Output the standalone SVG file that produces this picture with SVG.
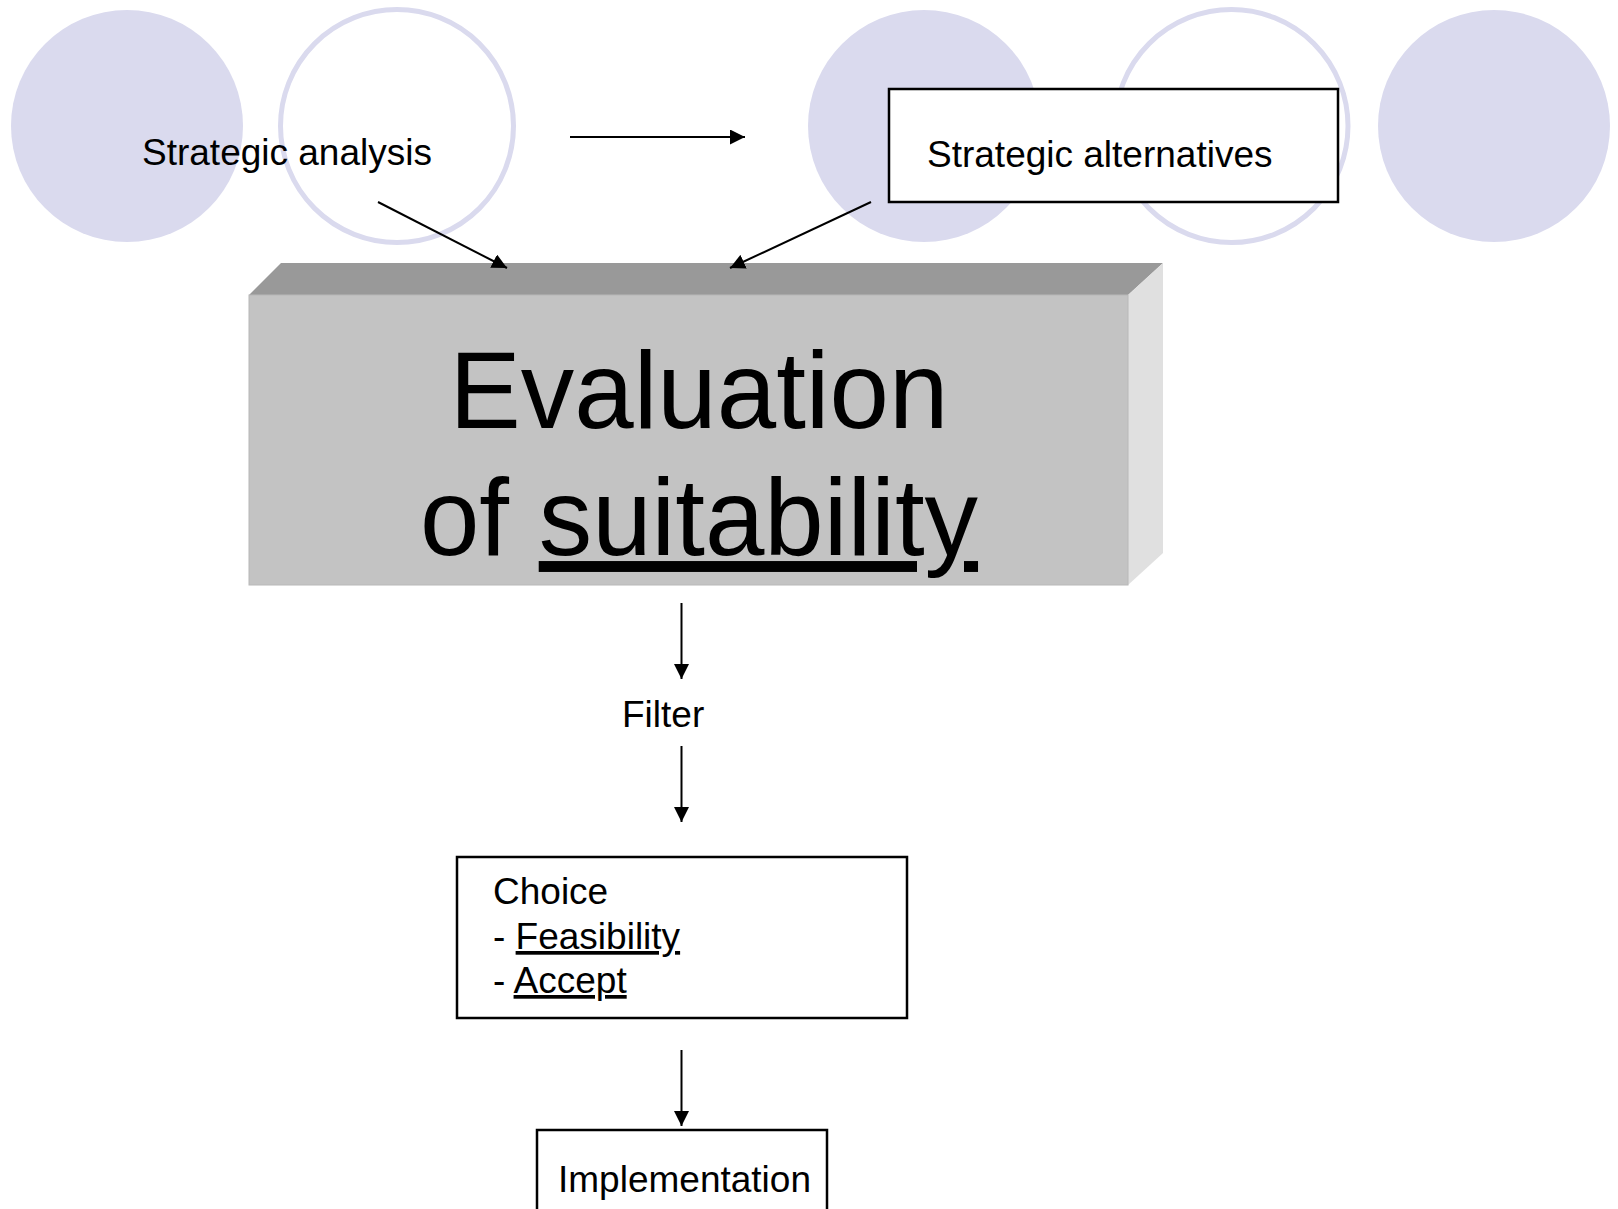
<svg xmlns="http://www.w3.org/2000/svg" width="1618" height="1209" viewBox="0 0 1618 1209">
  <style>
    .disc { fill: #DADAEE; }
    .ring { fill: none; stroke: #DADAEE; stroke-width: 5; }
    .t { font-family: "Liberation Sans", Arial, sans-serif; fill: #000; }
    .s37 { font-size: 37px; }
    .big { font-size: 109px; }
    .box { fill: #FFFFFF; stroke: #000; stroke-width: 2.5; }
    .conn { stroke: #000; stroke-width: 2; fill: none; marker-end: url(#ah); }
    .u { text-decoration: underline; }
  </style>
  <defs>
    <marker id="ah" viewBox="0 0 10 10" refX="10" refY="5" markerWidth="15" markerHeight="15" markerUnits="userSpaceOnUse" orient="auto">
      <path d="M0,0 L10,5 L0,10 z" fill="#000"/>
    </marker>
  </defs>
  <rect width="1618" height="1209" fill="#FFFFFF"/>

  <g id="decor">
    <circle class="disc" cx="127" cy="126" r="116"/>
    <circle class="ring" cx="397" cy="126" r="116.5"/>
    <circle class="disc" cx="924" cy="126" r="116"/>
    <circle class="ring" cx="1231.5" cy="126" r="116.5"/>
    <circle class="disc" cx="1494" cy="126" r="116"/>
  </g>

  <g id="node-strategic-analysis">
    <text class="t s37" x="142" y="165">Strategic analysis</text>
  </g>

  <g id="node-evaluation">
    <polygon points="249,295 281,263 1163,263 1128,295" fill="#999999"/>
    <polygon points="1128,295 1163,263 1163,553 1128,585" fill="#E0E0E0"/>
    <rect x="249" y="295" width="879" height="290" fill="#C3C3C3" stroke="#B8B8B8" stroke-width="1"/>
    <g transform="translate(699 0) scale(0.98 1) translate(-699 0)">
      <text class="t big" x="699" y="428" text-anchor="middle">Evaluation</text>
      <text class="t big" x="699" y="555" text-anchor="middle">of <tspan class="u">suitability</tspan></text>
    </g>
  </g>

  <g id="node-strategic-alternatives">
    <rect class="box" x="889" y="89" width="449" height="113"/>
    <text class="t s37" x="927" y="167">Strategic alternatives</text>
  </g>

  <g id="node-filter">
    <text class="t s37" x="622" y="727">Filter</text>
  </g>

  <g id="node-choice">
    <rect class="box" x="457" y="857" width="450" height="161"/>
    <text class="t s37" x="493" y="904">Choice</text>
    <text class="t s37" x="493" y="949">- <tspan class="u">Feasibility</tspan></text>
    <text class="t s37" x="493" y="993">- <tspan class="u">Accept</tspan></text>
  </g>

  <g id="node-implementation">
    <rect class="box" x="537" y="1130" width="290" height="90"/>
    <text class="t s37" x="558" y="1192">Implementation</text>
  </g>

  <g id="connectors">
    <line class="conn" x1="570" y1="137" x2="745" y2="137"/>
    <line class="conn" x1="378" y1="202" x2="507" y2="268"/>
    <line class="conn" x1="871" y1="202" x2="730" y2="268"/>
    <line class="conn" x1="681.5" y1="603" x2="681.5" y2="679"/>
    <line class="conn" x1="681.5" y1="746" x2="681.5" y2="822"/>
    <line class="conn" x1="681.5" y1="1050" x2="681.5" y2="1126"/>
  </g>
</svg>
